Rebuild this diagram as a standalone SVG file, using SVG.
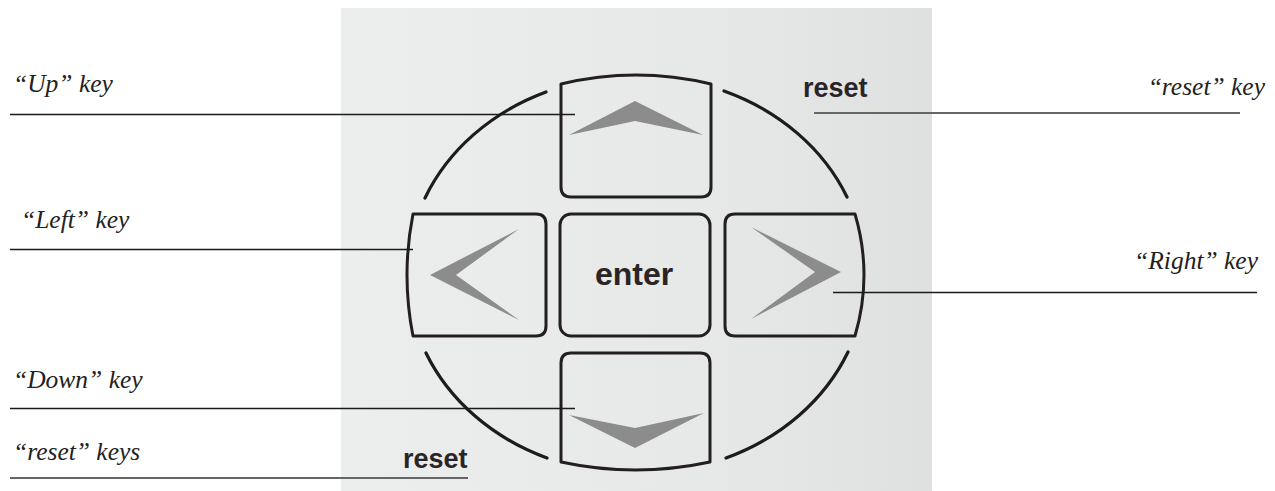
<svg xmlns="http://www.w3.org/2000/svg" width="1275" height="491" viewBox="0 0 1275 491">
  <defs>
    <linearGradient id="photoBg" x1="0" y1="0" x2="1" y2="0">
      <stop offset="0" stop-color="#eceeee"/>
      <stop offset="0.6" stop-color="#e7e9e9"/>
      <stop offset="1" stop-color="#dfe1e1"/>
    </linearGradient>
    <style>
      .key { fill: none; stroke: #231f20; stroke-width: 3; stroke-linejoin: round; }
      .ring { fill: none; stroke: #1e1b1c; stroke-width: 3.2; stroke-linecap: round; }
      .chev { fill: #8c8c8c; }
      .keytxt { font-family: "Liberation Sans", Arial, sans-serif; font-weight: bold; fill: #2a2426; }
      .lbl { font-family: "Liberation Serif", "Times New Roman", serif; font-style: italic; font-size: 25.5px; fill: #222; }
      .lead { stroke: #1a1a1a; stroke-width: 1.4; }
      .leadgrey { stroke: #666; stroke-width: 2; }
    </style>
  </defs>

  <rect x="0" y="0" width="1275" height="491" fill="#ffffff"/>
  <rect id="photo" x="341" y="8" width="591" height="483" fill="url(#photoBg)"/>

  <g id="ring">
    <path class="ring" d="M425,198 A227,198 0 0,1 546,92"/>
    <path class="ring" d="M724,91 A227,198 0 0,1 847,197"/>
    <path class="ring" d="M848,352 A227,198 0 0,1 726,458"/>
    <path class="ring" d="M547,458 A227,198 0 0,1 426,353"/>
  </g>

  <g id="key-up">
    <path class="key" d="M561,84 Q636,66 711,84 L711,187 Q711,197 701,197 L571,197 Q561,197 561,187 Z"/>
    <polygon class="chev" points="635,101 703,135 635,121 569,135"/>
  </g>

  <g id="key-left">
    <path class="key" d="M413,214 L536,214 Q546,214 546,224 L546,326 Q546,336 536,336 L413,336 Q401,275 413,214 Z"/>
    <polygon class="chev" points="430,275 519,229 456,275 519,320"/>
  </g>

  <g id="key-enter">
    <rect class="key" x="560" y="214" width="150" height="122" rx="11"/>
    <text class="keytxt" x="634" y="285" font-size="32" text-anchor="middle">enter</text>
  </g>

  <g id="key-right">
    <path class="key" d="M735,214 L855,214 Q873,275 855,336 L735,336 Q725,336 725,326 L725,224 Q725,214 735,214 Z"/>
    <polygon class="chev" points="841,272 751,227 815,272 751,319"/>
  </g>

  <g id="key-down">
    <path class="key" d="M561,363 Q561,353 571,353 L700,353 Q710,353 710,363 L710,462 Q635.5,478 561,462 Z"/>
    <polygon class="chev" points="569,415 635,428 704,413 635,448"/>
  </g>

  <g id="reset-top">
    <text class="keytxt" x="803" y="97" font-size="27">reset</text>
  </g>
  <g id="reset-bottom">
    <text class="keytxt" x="403" y="468" font-size="27">reset</text>
  </g>

  <g id="connectors">
    <line class="lead" x1="10" y1="114.5" x2="575" y2="114.5"/>
    <line class="leadgrey" x1="814" y1="113" x2="1240" y2="113"/>
    <line class="lead" x1="10" y1="249.5" x2="413" y2="249.5"/>
    <line class="lead" x1="833" y1="292.5" x2="1257" y2="292.5"/>
    <line class="lead" x1="10" y1="408.5" x2="575" y2="408.5"/>
    <line class="leadgrey" x1="10" y1="478" x2="468" y2="478"/>
  </g>

  <g id="labels">
    <text class="lbl" x="13" y="92">“Up” key</text>
    <text class="lbl" x="21" y="228">“Left” key</text>
    <text class="lbl" x="13" y="388">“Down” key</text>
    <text class="lbl" x="13" y="460">“reset” keys</text>
    <text class="lbl" x="1265" y="95" text-anchor="end">“reset” key</text>
    <text class="lbl" x="1258" y="269" text-anchor="end">“Right” key</text>
  </g>
</svg>
